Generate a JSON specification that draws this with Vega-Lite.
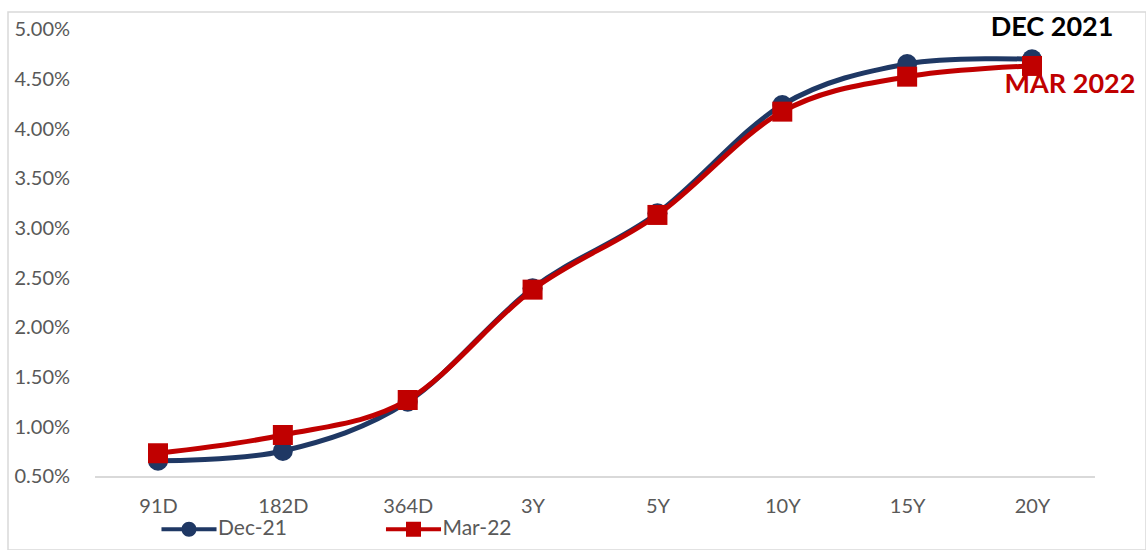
{
  "$schema": "https://vega.github.io/schema/vega-lite/v6.json",
  "width": 1138,
  "height": 538,
  "autosize": {"type": "none"},
  "padding": {"left": 8, "top": 12, "right": 0, "bottom": 0},
  "background": "white",
  "config": {
    "view": {"stroke": "#D9D9D9", "strokeWidth": 1.5},
    "font": "Lato"
  },
  "data": {
    "values": [
      {"tenor": "91D", "series": "Dec-21", "yield": 0.00664},
      {"tenor": "182D", "series": "Dec-21", "yield": 0.00762},
      {"tenor": "364D", "series": "Dec-21", "yield": 0.01258},
      {"tenor": "3Y", "series": "Dec-21", "yield": 0.0240},
      {"tenor": "5Y", "series": "Dec-21", "yield": 0.03155},
      {"tenor": "10Y", "series": "Dec-21", "yield": 0.04245},
      {"tenor": "15Y", "series": "Dec-21", "yield": 0.04658},
      {"tenor": "20Y", "series": "Dec-21", "yield": 0.04705},
      {"tenor": "91D", "series": "Mar-22", "yield": 0.00739},
      {"tenor": "182D", "series": "Mar-22", "yield": 0.00923},
      {"tenor": "364D", "series": "Mar-22", "yield": 0.01275},
      {"tenor": "3Y", "series": "Mar-22", "yield": 0.02386},
      {"tenor": "5Y", "series": "Mar-22", "yield": 0.03138},
      {"tenor": "10Y", "series": "Mar-22", "yield": 0.04178},
      {"tenor": "15Y", "series": "Mar-22", "yield": 0.0453},
      {"tenor": "20Y", "series": "Mar-22", "yield": 0.04638}
    ]
  },
  "encoding": {
    "x": {
      "field": "tenor",
      "type": "ordinal",
      "sort": ["91D", "182D", "364D", "3Y", "5Y", "10Y", "15Y", "20Y"],
      "scale": {
        "type": "point",
        "domain": ["91D", "182D", "364D", "3Y", "5Y", "10Y", "15Y", "20Y"],
        "padding": 0,
        "range": [150, 1024]
      },
      "axis": {
        "title": null,
        "orient": "bottom",
        "offset": -73,
        "domain": false,
        "ticks": false,
        "tickSize": 0,
        "grid": false,
        "labelAngle": 0,
        "labelPadding": 19,
        "labelFont": "Lato",
        "labelFontSize": 20,
        "labelColor": "#595959"
      }
    },
    "y": {
      "field": "yield",
      "type": "quantitative",
      "scale": {"domain": [-0.00235, 0.05181], "nice": false, "zero": false},
      "axis": {
        "title": null,
        "values": [0.005, 0.01, 0.015, 0.02, 0.025, 0.03, 0.035, 0.04, 0.045, 0.05],
        "format": ".2%",
        "grid": false,
        "domain": false,
        "ticks": false,
        "tickSize": 0,
        "labelAlign": "left",
        "labelPadding": 0,
        "offset": -6,
        "labelFont": "Lato",
        "labelFontSize": 20,
        "labelColor": "#595959"
      }
    },
    "color": {
      "field": "series",
      "type": "nominal",
      "scale": {"domain": ["Dec-21", "Mar-22"], "range": ["#1F3864", "#C00000"]},
      "legend": {
        "title": null,
        "orient": "none",
        "legendX": 170.5,
        "legendY": 506.5,
        "direction": "horizontal",
        "padding": 0,
        "symbolSize": 225,
        "labelOffset": 18.5,
        "columnPadding": 97.5,
        "labelFont": "Lato",
        "labelFontSize": 21,
        "labelColor": "#595959",
        "symbolOpacity": 1,
        "symbolStrokeWidth": 0,
        "encode": {
          "symbols": {
            "update": {
              "size": {"value": 225},
              "opacity": {"value": 1},
              "strokeWidth": {"value": 0}
            }
          }
        }
      }
    }
  },
  "layer": [
    {
      "mark": {"type": "rule", "color": "#D9D9D9", "strokeWidth": 2, "xOffset": -62.4, "x2Offset": 62.4},
      "encoding": {
        "x": {"datum": "91D", "type": "ordinal"},
        "x2": {"datum": "20Y"},
        "y": {"datum": 0.005, "type": "quantitative"},
        "color": {"value": "#D9D9D9"}
      }
    },
    {
      "mark": {"type": "line", "interpolate": "cardinal", "strokeWidth": 5, "strokeCap": "round"}
    },
    {
      "transform": [{"filter": "datum.series === 'Dec-21'"}],
      "mark": {"type": "point", "shape": "circle", "filled": true, "size": 400, "opacity": 1}
    },
    {
      "transform": [{"filter": "datum.series === 'Mar-22'"}],
      "mark": {"type": "point", "shape": "square", "filled": true, "size": 400, "opacity": 1}
    },
    {
      "transform": [{"filter": "datum.yield < 0"}],
      "mark": {"type": "point", "filled": true, "size": 225, "opacity": 1},
      "encoding": {
        "shape": {
          "field": "series",
          "type": "nominal",
          "scale": {
            "domain": ["Dec-21", "Mar-22"],
            "range": [
              "M-3.67,-0.27L3.67,-0.27L3.67,0.27L-3.67,0.27Z M-1,0A1,1,0,1,1,1,0A1,1,0,1,1,-1,0Z",
              "M-3.67,-0.27L3.67,-0.27L3.67,0.27L-3.67,0.27Z M-1,-1L1,-1L1,1L-1,1Z"
            ]
          },
          "legend": {
            "title": null,
            "orient": "none",
            "legendX": 170.5,
            "legendY": 506.5,
            "direction": "horizontal",
            "padding": 0,
            "symbolSize": 225,
            "labelOffset": 18.5,
            "columnPadding": 97.5,
            "labelFont": "Lato",
            "labelFontSize": 21,
            "labelColor": "#595959",
            "symbolOpacity": 1,
            "symbolStrokeWidth": 0,
            "encode": {
              "symbols": {
                "update": {
                  "size": {"value": 225},
                  "opacity": {"value": 1},
                  "strokeWidth": {"value": 0}
                }
              }
            }
          }
        }
      }
    },
    {
      "transform": [{"filter": "datum.series === 'Dec-21' && datum.tenor === '20Y'"}],
      "mark": {"type": "text", "text": "DEC 2021", "font": "Lato", "fontWeight": "bold", "fontSize": 27, "align": "center", "baseline": "alphabetic", "dx": 20, "dy": -23},
      "encoding": {"color": {"value": "#000000"}}
    },
    {
      "transform": [{"filter": "datum.series === 'Mar-22' && datum.tenor === '20Y'"}],
      "mark": {"type": "text", "text": "MAR 2022", "font": "Lato", "fontWeight": "bold", "fontSize": 27, "align": "center", "baseline": "alphabetic", "dx": 38, "dy": 27},
      "encoding": {"color": {"value": "#C00000"}}
    }
  ]
}
